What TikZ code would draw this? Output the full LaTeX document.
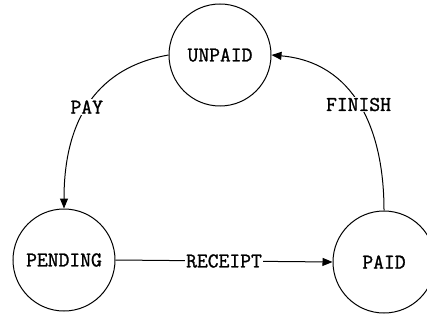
\documentclass[tikz,border=0pt]{standalone}
\usepackage{fontspec}
\newfontfamily\statefont{Latin Modern Mono}[FakeBold=1.2]
\usetikzlibrary{arrows.meta}
\begin{document}
\begin{tikzpicture}[x=1pt,y=-1pt,
  txt/.style={font=\statefont\fontsize{21}{23}\selectfont},
  state/.style={circle,draw,line width=1pt,minimum size=102pt,inner sep=0pt,txt},
  edge/.style={line width=1pt,-{Triangle[length=10pt,width=8pt]}},
  lbl/.style={fill=white,inner sep=1pt,txt}]
\useasboundingbox[fill=white] (0,0) rectangle (427,323);
\node[state] (unpaid) at (220,55) {UNPAID};
\node[state] (pending) at (64,260) {PENDING};
\node[state] (paid) at (384,262) {PAID};
\draw[edge] (pending.east) -- node[lbl] {RECEIPT} (paid.west);
\draw[edge] (unpaid.west) to[out=190,in=90,looseness=1.1] node[lbl,pos=0.5] {PAY} (pending.north);
\draw[edge] (paid.north) to[out=90,in=-5,looseness=1.1] node[lbl,pos=0.5] {FINISH} (unpaid.east);
\end{tikzpicture}
\end{document}
